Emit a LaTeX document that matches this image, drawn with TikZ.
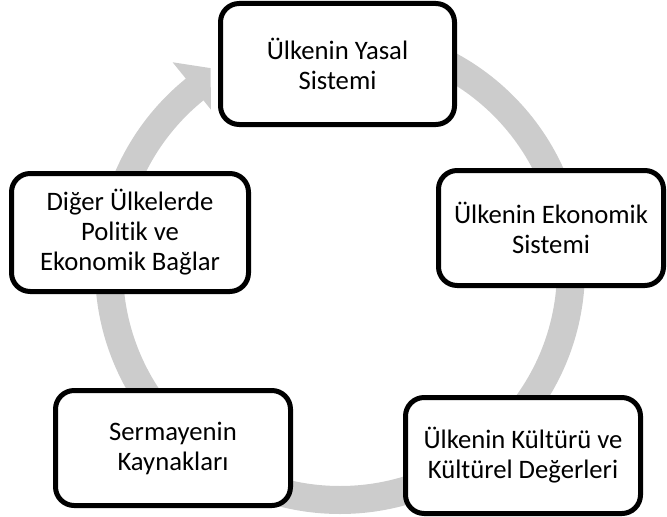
\documentclass[tikz,border=0pt]{standalone}
\usepackage{fontspec}
\setmainfont{Carlito}[Ligatures=NoCommon]
\definecolor{ringgray}{RGB}{204,204,204}
\begin{document}
\begin{tikzpicture}[x=0.75pt,y=-0.75pt,
  stage/.style={draw=black,fill=white,line width=3.75pt,rounded corners=14pt,
    inner sep=0pt,align=center,font=\fontsize{20pt}{22.5pt}\selectfont},
  ringline/.style={draw=ringgray,line width=21pt},
  ringhead/.style={fill=ringgray}]
\useasboundingbox (0,0) rectangle (667,517);
\coordinate (c) at (340,269);
% circular arrow
\draw[ringline] ([shift={(-90:231)}]c) arc[start angle=-90,end angle=231.5,radius=231];
\fill[ringhead] ([shift={(231:205)}]c) -- ([shift={(237.2:239)}]c) -- ([shift={(231:266)}]c) -- cycle;
% stages
\node[stage,minimum width=175.5pt,minimum height=90.75pt] (yasal) at (337.5,64) {Ülkenin Yasal\\Sistemi};
\node[stage,minimum width=168.75pt,minimum height=86.25pt] (ekonomik) at (551,228) {Ülkenin Ekonomik\\Sistemi};
\node[stage,minimum width=176.25pt,minimum height=87pt] (kultur) at (523,455.5) {Ülkenin Kültürü ve\\Kültürel Değerleri};
\node[stage,minimum width=176.25pt,minimum height=86.25pt] (sermaye) at (173,448) {Sermayenin\\Kaynakları};
\node[stage,minimum width=177.75pt,minimum height=88.5pt] (diger) at (130,232.5) {Diğer Ülkelerde\\Politik ve\\Ekonomik Bağlar};
\end{tikzpicture}
\end{document}
